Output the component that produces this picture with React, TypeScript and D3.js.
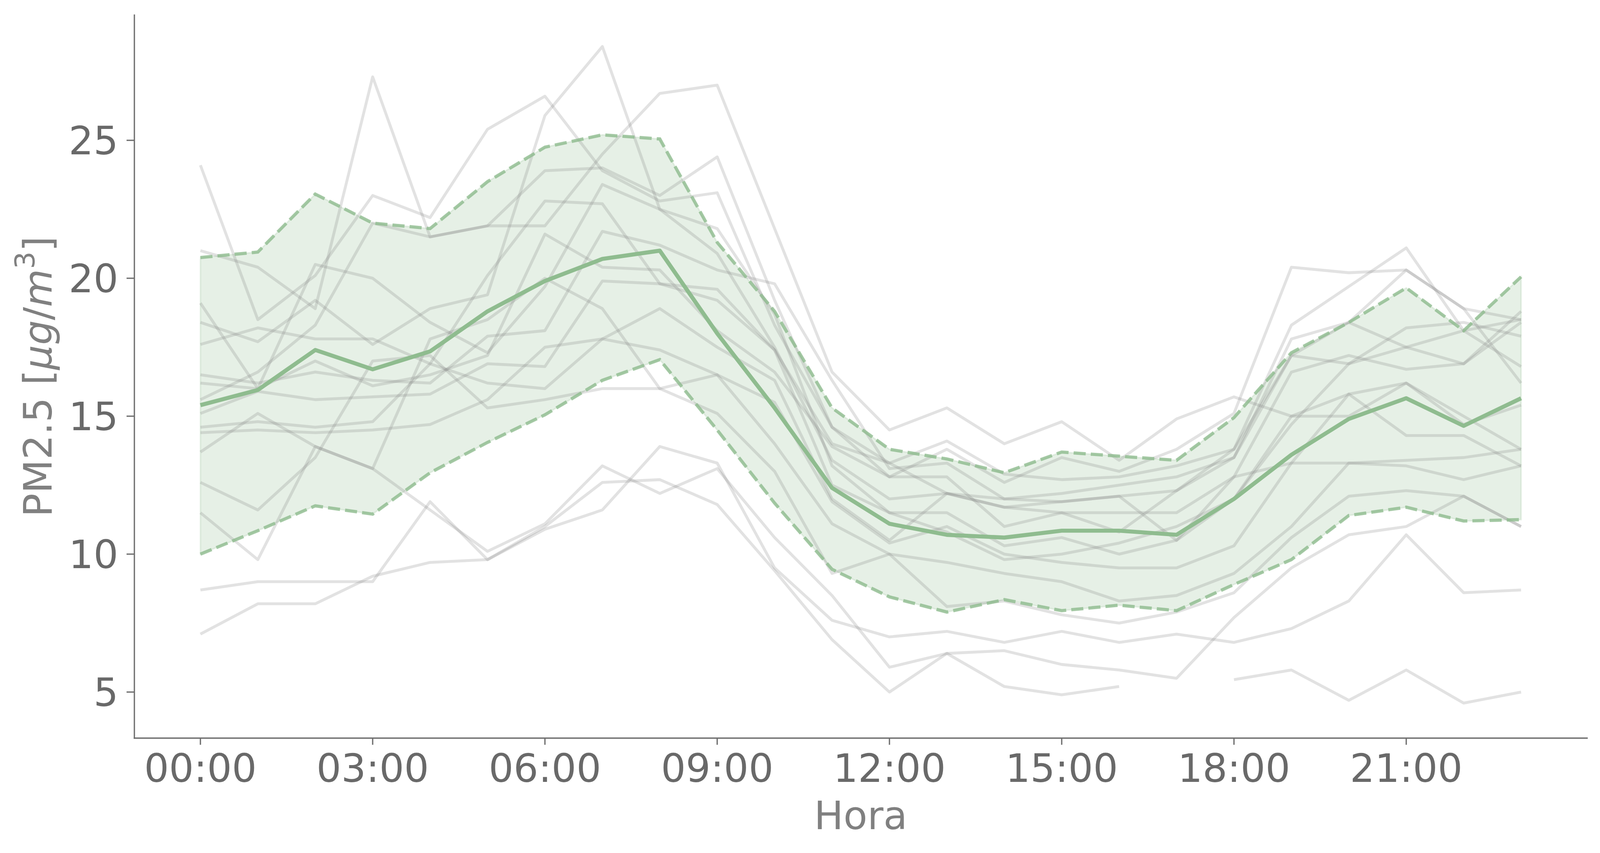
import React from "react";
import * as d3 from "d3";

// hours of the day (x) and the axis ticks
const HOURS = [0, 1, 2, 3, 4, 5, 6, 7, 8, 9, 10, 11, 12, 13, 14, 15, 16, 17, 18, 19, 20, 21, 22, 23];
const X_TICKS = [0, 3, 6, 9, 12, 15, 18, 21];
const X_TICK_LABELS = ["00:00", "03:00", "06:00", "09:00", "12:00", "15:00", "18:00", "21:00"];
const Y_TICKS = [5, 10, 15, 20, 25];

// hourly mean and the mean +/- std band
const MEAN = [15.4, 15.95, 17.4, 16.7, 17.35, 18.8, 19.9, 20.7, 21.0, 18.0, 15.3, 12.4, 11.1, 10.7, 10.6, 10.85, 10.85, 10.7, 12.0, 13.6, 14.9, 15.65, 14.65, 15.65];
const UPPER = [20.75, 20.95, 23.05, 22.0, 21.8, 23.5, 24.75, 25.2, 25.05, 21.3, 18.8, 15.3, 13.8, 13.45, 12.95, 13.7, 13.55, 13.4, 14.95, 17.3, 18.4, 19.65, 18.1, 20.05];
const LOWER = [10.0, 10.85, 11.75, 11.45, 12.95, 14.05, 15.05, 16.3, 17.05, 14.5, 11.85, 9.45, 8.45, 7.9, 8.35, 7.95, 8.15, 7.95, 8.9, 9.8, 11.4, 11.7, 11.2, 11.25];

// individual days (grey lines)
const DAY_01 = [24.1, 18.5, 20.1, 23.0, 22.2, 25.4, 26.6, 23.9, 22.8, 23.1, 18.3, 14.6, 12.8, 13.8, 12.6, 13.5, 13.0, 13.8, 15.1, 20.4, 20.2, 20.3, 18.9, 16.2];
const DAY_02 = [21.0, 20.4, 18.9, 27.3, 21.5, 21.9, 21.9, 24.5, 26.7, 27.0, 21.8, 16.6, 14.5, 15.3, 14.0, 14.8, 13.4, 14.9, 15.7, 15.0, 15.8, 16.2, 15.0, 13.8];
const DAY_03 = [19.1, 16.0, 20.5, 20.0, 18.4, 17.3, 19.7, 23.4, 22.5, 20.9, 17.5, 13.4, 12.0, 12.2, 11.7, 11.9, 12.1, 12.3, 13.5, 17.2, 16.9, 17.5, 18.1, 18.5];
const DAY_04 = [18.4, 17.7, 19.2, 17.6, 18.9, 19.4, 25.9, 28.4, 22.5, 21.8, 18.7, 13.2, 11.5, 10.8, 9.8, 10.0, 10.4, 11.0, 12.0, 14.7, 16.9, 18.2, 18.4, 17.9];
const DAY_05 = [17.6, 18.2, 17.8, 17.8, 16.9, 20.1, 22.8, 22.7, 19.8, 19.2, 17.4, 14.0, 13.3, 14.1, 12.9, 12.7, 12.8, 13.2, 13.8, 18.3, 19.7, 21.1, 18.1, 16.8];
const DAY_06 = [16.5, 16.2, 16.6, 16.3, 16.2, 17.9, 18.1, 21.7, 21.2, 20.3, 19.8, 16.3, 13.1, 13.3, 12.0, 12.2, 12.5, 12.8, 13.5, 17.8, 18.4, 17.5, 16.9, 18.4];
const DAY_07 = [16.2, 16.0, 17.0, 16.1, 16.5, 17.2, 21.6, 20.4, 20.3, 18.1, 16.6, 13.9, 12.8, 12.8, 11.0, 11.5, 11.5, 11.5, 12.8, 16.6, 17.2, 16.7, 16.9, 18.8];
const DAY_08 = [15.6, 16.6, 18.3, 22.0, 21.5, 21.9, 23.9, 24.0, 23.0, 24.4, 19.2, 14.6, 13.3, 12.2, 11.7, 11.5, 10.8, 12.3, 13.8, 17.2, 18.4, 20.3, 18.9, 18.5];
const DAY_09 = [15.1, 15.9, 15.6, 15.7, 15.8, 16.9, 16.8, 19.9, 19.8, 19.6, 17.4, 12.5, 11.5, 11.5, 10.3, 10.6, 10.0, 10.5, 12.0, 15.0, 15.0, 16.2, 14.7, 15.4];
const DAY_10 = [14.6, 14.8, 14.6, 14.8, 16.9, 16.2, 16.0, 17.8, 18.9, 17.5, 16.3, 12.0, 10.5, 12.2, 12.0, 11.9, 12.1, 10.5, 12.8, 13.3, 15.8, 14.3, 14.3, 13.2];
const DAY_11 = [14.4, 14.5, 14.4, 14.5, 14.7, 15.6, 17.5, 17.8, 17.4, 16.5, 15.5, 11.9, 10.4, 11.0, 10.0, 9.7, 9.5, 9.5, 10.3, 13.3, 13.3, 13.4, 13.5, 13.8];
const DAY_12 = [13.7, 15.1, 13.9, 13.1, 17.8, 18.5, 20.0, 18.9, 16.0, 16.5, 14.0, 11.1, 10.0, 9.7, 9.3, 9.0, 8.3, 8.5, 9.3, 11.0, 13.3, 13.2, 12.7, 13.2];
const DAY_13 = [12.6, 11.6, 13.5, 17.0, 17.2, 15.3, 15.6, 16.0, 16.0, 15.1, 13.0, 9.3, 10.0, 8.1, 8.3, 7.8, 7.5, 7.9, 8.6, 10.6, 12.1, 12.3, 12.1, 11.0];
const DAY_14 = [11.5, 9.8, 13.9, 13.1, 11.6, 10.1, 11.1, 13.2, 12.2, 13.1, 10.6, 8.5, 5.9, 6.4, 6.5, 6.0, 5.8, 5.5, 7.7, 9.5, 10.7, 11.0, 12.1, 11.0];
const DAY_15 = [8.7, 9.0, 9.0, 9.0, 11.9, 9.8, 10.9, 11.6, 13.9, 13.3, 9.5, 7.6, 7.0, 7.2, 6.8, 7.2, 6.8, 7.1, 6.8, 7.3, 8.3, 10.7, 8.6, 8.7];
const DAY_16 = [7.1, 8.2, 8.2, 9.2, 9.7, 9.8, 11.0, 12.6, 12.7, 11.8, 9.4, 6.9, 5.0, 6.4, 5.2, 4.9, 5.2, null, 5.45, 5.8, 4.7, 5.8, 4.6, 5.0];

const DAYS = [DAY_01, DAY_02, DAY_03, DAY_04, DAY_05, DAY_06, DAY_07, DAY_08, DAY_09, DAY_10, DAY_11, DAY_12, DAY_13, DAY_14, DAY_15, DAY_16];

const WIDTH = 4103;
const HEIGHT = 2183;
const LEFT = 344;
const RIGHT = 4063;
const TOP = 38.6;
const BOTTOM = 1889;

const GREEN = "#8fbc8f";
const AXIS_COLOR = "#6e6e6e";
const TICK_TEXT = "#696969";
const LABEL_TEXT = "#808080";
const FONT = "DejaVu Sans";

const App = () => {
  const x = d3.scaleLinear().domain([-1.15, 24.15]).range([LEFT, RIGHT]);
  const y = d3.scaleLinear().domain([3.33, 29.54]).range([BOTTOM, TOP]);

  const line = d3
    .line<number | null>()
    .defined((d) => d != null)
    .x((_, i) => x(HOURS[i]))
    .y((d) => y(d as number));

  const band = d3
    .area<number>()
    .x((_, i) => x(HOURS[i]))
    .y0((_, i) => y(LOWER[i]))
    .y1((_, i) => y(UPPER[i]));

  return (
    <div style={{ position: "absolute", left: 0, top: 0 }}>
      <svg width={WIDTH} height={HEIGHT} style={{ display: "block", background: "#fff" }}>
        {/* std band */}
        <path
          d={band(HOURS) ?? ""}
          fill={GREEN}
          fillOpacity={0.22}
          stroke={GREEN}
          strokeOpacity={0.2}
          strokeWidth={4}
        />

        {/* every day */}
        {DAYS.map((d, i) => (
          <path
            key={i}
            d={line(d) ?? ""}
            fill="none"
            stroke="#808080"
            strokeOpacity={0.23}
            strokeWidth={7.3}
            strokeLinejoin="round"
          />
        ))}

        {/* mean +/- std */}
        {[UPPER, LOWER].map((d, i) => (
          <path
            key={"b" + i}
            d={line(d) ?? ""}
            fill="none"
            stroke={GREEN}
            strokeOpacity={0.8}
            strokeWidth={8.3}
            strokeDasharray="31 13"
          />
        ))}
        <path d={line(MEAN) ?? ""} fill="none" stroke={GREEN} strokeWidth={10.4} strokeLinejoin="round" />

        {/* spines */}
        <line x1={LEFT} x2={LEFT} y1={TOP} y2={BOTTOM} stroke={AXIS_COLOR} strokeWidth={3.3} strokeLinecap="square" />
        <line x1={LEFT} x2={RIGHT} y1={BOTTOM} y2={BOTTOM} stroke={AXIS_COLOR} strokeWidth={3.3} strokeLinecap="square" />

        {/* y ticks */}
        {Y_TICKS.map((t) => (
          <g key={"y" + t}>
            <line x1={LEFT - 20} x2={LEFT} y1={y(t)} y2={y(t)} stroke={AXIS_COLOR} strokeWidth={3.3} />
            <text
              x={303}
              y={y(t) + 36}
              textAnchor="end"
              fontFamily={FONT}
              fontSize={100}
              fill={TICK_TEXT}
            >
              {t}
            </text>
          </g>
        ))}

        {/* x ticks */}
        {X_TICKS.map((t, i) => (
          <g key={"x" + t}>
            <line x1={x(t)} x2={x(t)} y1={BOTTOM} y2={BOTTOM + 17} stroke={AXIS_COLOR} strokeWidth={3.3} />
            <text x={x(t)} y={2001} textAnchor="middle" fontFamily={FONT} fontSize={100} fill={TICK_TEXT}>
              {X_TICK_LABELS[i]}
            </text>
          </g>
        ))}

        {/* axis labels */}
        <text x={(LEFT + RIGHT) / 2} y={2122} textAnchor="middle" fontFamily={FONT} fontSize={100} fill={LABEL_TEXT}>
          Hora
        </text>
        <text
          transform={`translate(132, ${(TOP + BOTTOM) / 2}) rotate(-90)`}
          textAnchor="middle"
          fontFamily={FONT}
          fontSize={100}
          fill={LABEL_TEXT}
        >
          PM2.5 [<tspan fontStyle="italic">μg</tspan>/<tspan fontStyle="italic">m</tspan>
          <tspan fontSize={70} dy={-44}>3</tspan>
          <tspan dy={44}>]</tspan>
        </text>
      </svg>
    </div>
  );
};

export default App;
